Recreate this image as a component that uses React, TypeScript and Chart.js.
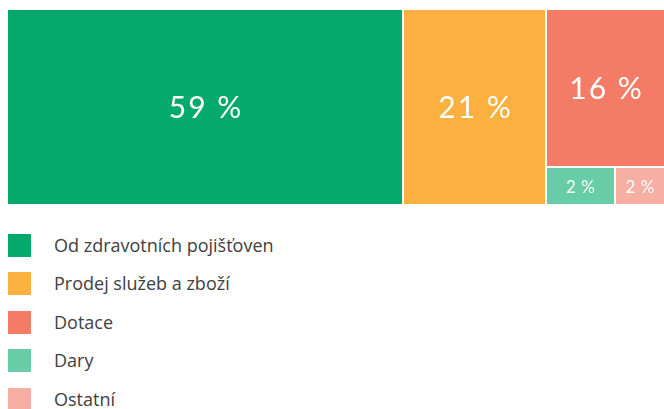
import React, { useEffect, useLayoutEffect, useRef } from "react";
import { Chart, registerables } from "chart.js";

Chart.register(...registerables);

// ---- data ----
const categories = [
  "Od zdravotních pojišťoven",
  "Prodej služeb a zboží",
  "Dotace",
  "Dary",
  "Ostatní",
];
const percentLabels = [59, 21, 16, 2, 2];
const tileWeights = [60.2, 21.8, 14.6, 2.0, 1.4];
const colors = ["#05A96B", "#FBB040", "#F47B66", "#66CDA6", "#F8AFA3"];

type Rect = { x: number; y: number; w: number; h: number; i: number };

function worst(areas: number[], side: number) {
  const s = areas.reduce((a, b) => a + b, 0);
  const mx = Math.max(...areas);
  const mn = Math.min(...areas);
  return Math.max((side * side * mx) / (s * s), (s * s) / (side * side * mn));
}

function squarify(weights: number[], W: number, H: number): Rect[] {
  const total = weights.reduce((a, b) => a + b, 0);
  const items = weights.map((v, i) => ({ a: (v / total) * W * H, i }));
  const out: Rect[] = [];
  let x = 0, y = 0, w = W, h = H;
  let rem = items.slice();
  while (rem.length) {
    const side = Math.min(w, h);
    const row = [rem[0]];
    let k = 1;
    while (
      k < rem.length &&
      worst([...row, rem[k]].map((r) => r.a), side) <= worst(row.map((r) => r.a), side)
    ) {
      row.push(rem[k]);
      k++;
    }
    const ra = row.reduce((s, r) => s + r.a, 0);
    if (w >= h) {
      const cw = ra / h;
      let cy = y;
      for (const r of row) {
        const rh = r.a / cw;
        out.push({ x, y: cy, w: cw, h: rh, i: r.i });
        cy += rh;
      }
      x += cw;
      w -= cw;
    } else {
      const rh = ra / w;
      let cx = x;
      for (const r of row) {
        const rw = r.a / rh;
        out.push({ x: cx, y, w: rw, h: rh, i: r.i });
        cx += rw;
      }
      y += rh;
      h -= rh;
    }
    rem = rem.slice(row.length);
  }
  return out;
}

const treemapPlugin = {
  id: "treemapTiles",
  afterDatasetsDraw(chart: any) {
    const { ctx, chartArea, scales } = chart;
    const W = chartArea.right - chartArea.left;
    const H = chartArea.bottom - chartArea.top;
    const rects = squarify(tileWeights, W, H);
    const xs = scales.x;
    const ys = scales.y;
    ctx.save();
    for (const r of rects) {
      const x0 = xs.getPixelForValue(r.x / W);
      const x1 = xs.getPixelForValue((r.x + r.w) / W);
      const y0 = ys.getPixelForValue(r.y / H);
      const y1 = ys.getPixelForValue((r.y + r.h) / H);
      const l = Math.round(x0) + (x0 > chartArea.left + 0.5 ? 1 : 0);
      const rr = Math.round(x1) - (x1 < chartArea.right - 0.5 ? 1 : 0);
      const t = Math.round(y0) + (y0 > chartArea.top + 0.5 ? 1 : 0);
      const b = Math.round(y1) - (y1 < chartArea.bottom - 0.5 ? 1 : 0);
      ctx.fillStyle = colors[r.i];
      ctx.fillRect(l, t, rr - l, b - t);
      const big = b - t > 60;
      const size = big ? 30 : 17;
      const spacing = big ? 2 : 0.5;
      ctx.font = `400 ${size}px Lato, "Open Sans", sans-serif`;
      try {
        (ctx as any).letterSpacing = `${spacing}px`;
      } catch (e) {}
      ctx.fillStyle = "#ffffff";
      ctx.textAlign = "center";
      ctx.textBaseline = "alphabetic";
      const txt = `${percentLabels[r.i]} %`;
      const m = ctx.measureText("0");
      const cap = m.actualBoundingBoxAscent;
      ctx.fillText(txt, (l + rr) / 2 + spacing / 2, (t + b) / 2 + cap / 2);
    }
    try {
      (ctx as any).letterSpacing = "0px";
    } catch (e) {}
    ctx.restore();
  },
};

export default function App() {
  const ref = useRef<HTMLCanvasElement | null>(null);

  useLayoutEffect(() => {
    document.documentElement.style.overflow = "hidden";
    document.body.style.marginRight = "0px";
    const root = document.getElementById("root");
    if (root) {
      root.style.overflow = "visible";
      root.style.width = "656px";
    }
  }, []);

  useEffect(() => {
    if (!ref.current) return;
    const chart = new Chart(ref.current, {
      type: "scatter",
      data: { datasets: [{ label: "tiles", data: [] }] },
      options: {
        animation: false,
        responsive: false,
        maintainAspectRatio: false,
        devicePixelRatio: 1,
        layout: { padding: { top: 2, left: 0, right: 0, bottom: 0 } },
        plugins: { legend: { display: false }, tooltip: { enabled: false } },
        scales: {
          x: { type: "linear", min: 0, max: 1, display: false },
          y: { type: "linear", min: 0, max: 1, reverse: true, display: false },
        },
      },
      plugins: [treemapPlugin],
    } as any);
    return () => chart.destroy();
  }, []);

  return (
    <div style={{ width: 656, height: 401 }}>
      <div style={{ width: 656, height: 196 }}>
        <canvas
          ref={ref}
          width={656}
          height={196}
          style={{ display: "block", width: 656, height: 196 }}
        />
      </div>
      <div style={{ marginTop: 22 }}>
        {categories.map((c, i) => (
          <div
            key={c}
            style={{ display: "flex", alignItems: "center", height: 38.5 }}
          >
            <div
              style={{ width: 23, height: 23, background: colors[i], flex: "none" }}
            />
            <div
              style={{
                marginLeft: 23,
                fontFamily: '"Open Sans", sans-serif',
                fontSize: 18,
                color: "#404040",
                lineHeight: "23px",
                whiteSpace: "nowrap",
              }}
            >
              {c}
            </div>
          </div>
        ))}
      </div>
    </div>
  );
}
